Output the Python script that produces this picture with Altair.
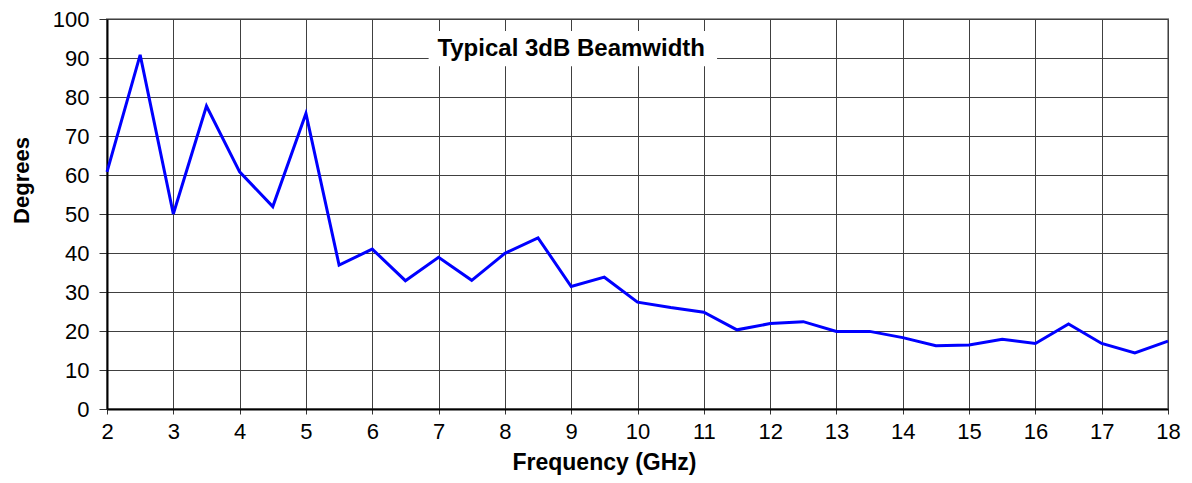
import altair as alt
import pandas as pd

freq = [2, 2.5, 3, 3.5, 4, 4.5, 5, 5.5, 6, 6.5, 7, 7.5, 8, 8.5, 9, 9.5, 10,
        10.5, 11, 11.5, 12, 12.5, 13, 13.5, 14, 14.5, 15, 15.5, 16, 16.5, 17, 17.5, 18]
beamwidth = [60.8, 90.8, 50.0, 77.7, 60.8, 51.9, 75.8, 36.9, 41.0, 32.9, 38.9, 33.0,
             39.9, 43.9, 31.4, 33.8, 27.4, 26.0, 24.8, 20.3, 21.9, 22.4, 19.9, 19.9,
             18.3, 16.2, 16.4, 17.9, 16.8, 21.8, 16.8, 14.4, 17.4]
x_ticks = list(range(2, 19))
y_ticks = list(range(0, 101, 10))
label_text = ["Typical 3dB Beamwidth"]

FONT = "Liberation Sans"

df = pd.DataFrame({"f": freq, "deg": beamwidth})

xscale = alt.Scale(domain=[2, 18], nice=False, zero=False)
yscale = alt.Scale(domain=[0, 100], nice=False)

line = alt.Chart(df).mark_line(color="#0000FF", strokeWidth=3).encode(
    x=alt.X("f:Q", scale=xscale,
            axis=alt.Axis(values=x_ticks, title="Frequency (GHz)", format="d",
                          titleX=497, titleY=60, titleBaseline="alphabetic",
                          titleAlign="center", titleFontSize=23,
                          tickSize=5, labelPadding=7,
                          labelFlush=False, labelOverlap=False)),
    y=alt.Y("deg:Q", scale=yscale,
            axis=alt.Axis(values=y_ticks, title="Degrees", format="d",
                          titleX=-86, titleY=161, titleBaseline="middle",
                          titleAlign="center", titleAngle=-90,
                          tickSize=8, labelPadding=10,
                          labelFlush=False, labelOverlap=False)),
)

box_df = pd.DataFrame({"x1": [6.85], "x2": [11.2], "y1": [87.9], "y2": [96.9],
                       "tx": [9.0], "ty": [92.3], "t": label_text})

box = alt.Chart(box_df).mark_rect(color="white").encode(
    x=alt.X("x1:Q", scale=xscale, axis=None), x2="x2:Q",
    y=alt.Y("y1:Q", scale=yscale, axis=None), y2="y2:Q",
)
txt = alt.Chart(box_df).mark_text(font=FONT, fontSize=24, fontWeight="bold",
                                  color="black", baseline="middle", align="center").encode(
    x=alt.X("tx:Q", scale=xscale, axis=None),
    y=alt.Y("ty:Q", scale=yscale, axis=None),
    text="t:N"
)

chart = alt.layer(line, box, txt).resolve_axis(
    x="independent", y="independent"
).properties(
    width=1061, height=390,
    background="white",
    autosize=alt.AutoSizeParams(type="none"),
    padding={"left": 99, "top": 11, "right": 16, "bottom": 66},
).configure_view(
    stroke="#999999", strokeWidth=2
).configure_axis(
    labelFont=FONT, labelFontSize=22, labelColor="black",
    titleFont=FONT, titleFontSize=22, titleFontWeight="bold", titleColor="black",
    domainColor="black", domainWidth=2,
    tickColor="#333333", tickWidth=1,
    gridColor="#404040", gridWidth=1, gridOpacity=1,
)

chart.save("out.html", embed_options={"renderer": "svg", "actions": False})
